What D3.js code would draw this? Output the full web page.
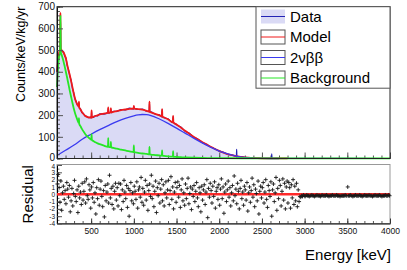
<!DOCTYPE html>
<html>
<head>
<meta charset="utf-8">
<script src="https://cdn.jsdelivr.net/npm/d3@7/dist/d3.min.js"></script>
<style>
  body { margin: 0; background: #fff; }
  svg { display: block; font-family: "Liberation Sans", Arial, sans-serif; }
</style>
</head>
<body>
<svg width="407" height="270"></svg>
<script>
// [energy keV, counts/keV/kg/yr]
const dataPts = [[100,398],[110,446],[120,470],[130,498],[136,505],[140,665],[144,495],[150,504],[160,492],[175,494],[190,472],[205,464],[220,428],[235,410],[250,380],[265,362],[280,326],[295,305],[310,275],[325,263],[340,245],[354,243],[357,258],[360,233],[375,229],[390,213],[410,207],[430,195],[450,194],[470,188],[490,191],[502,187],[505,218],[508,191],[530,190],[550,198],[575,197],[600,206],[650,205],[697,213],[700,232],[703,209],[728,216],[731,229],[734,211],[760,218],[800,217],[850,226],[900,224],[950,232],[997,228],[1000,240],[1003,233],[1050,226],[1100,228],[1150,218],[1180,219],[1183,258],[1186,213],[1200,215],[1250,204],[1300,201],[1328,192],[1331,225],[1334,195],[1350,188],[1400,183],[1457,165],[1460,193],[1463,168],[1500,155],[1550,145],[1600,126],[1650,116],[1700,98],[1750,90],[1800,74],[1850,66],[1900,53],[1950,45],[2000,34],[2050,28],[2100,19],[2150,16],[2201,10],[2204,42],[2207,9],[2250,8],[2300,4],[2350,4],[2400,2],[2450,1.5],[2500,1],[2612,0.5],[2615,22],[2618,0.5],[2700,0.3],[3000,0.2],[3500,0.2],[4000,0]];

const modelPts = [[100,400],[110,442],[120,476],[130,494],[136,498],[140,672],[144,500],[150,501],[160,497],[175,490],[190,478],[205,460],[220,432],[235,406],[250,384],[265,358],[280,330],[295,302],[310,278],[325,260],[340,248],[354,240],[357,262],[360,236],[375,226],[390,216],[410,205],[430,197],[450,192],[470,190],[490,189],[502,189],[505,222],[508,189],[530,193],[550,196],[575,199],[600,203],[650,207],[697,211],[700,236],[703,211],[728,213],[731,232],[734,213],[760,215],[800,219],[850,223],[900,226],[950,229],[997,230],[1000,242],[1003,230],[1050,228],[1100,225],[1150,220],[1180,216],[1183,262],[1186,215],[1200,213],[1250,206],[1300,199],[1328,194],[1331,228],[1334,193],[1350,190],[1400,181],[1457,167],[1460,196],[1463,166],[1500,157],[1550,143],[1600,128],[1650,114],[1700,100],[1750,88],[1800,76],[1850,65],[1900,54],[1950,44],[2000,35],[2050,27],[2100,20],[2150,15],[2200,11],[2250,8],[2300,5],[2350,3.5],[2400,2.2],[2450,1.5],[2500,1],[2600,0.6],[2700,0.4],[2800,0.3]];

const sigPts = [[100,14],[200,38],[300,62],[400,90],[500,112],[600,133],[700,152],[800,170],[900,185],[1000,197],[1050,201],[1100,203],[1150,202],[1200,198],[1300,182],[1400,162],[1500,140],[1600,117],[1700,94],[1800,72],[1900,52],[2000,34],[2100,21],[2200,11],[2300,5],[2400,2],[2500,0.6],[2600,0.1],[2700,0]];

const bgPts = [[100,330],[110,402],[120,455],[130,480],[136,486],[140,656],[144,486],[150,483],[160,470],[175,450],[190,425],[205,398],[220,370],[235,341],[250,312],[265,285],[280,258],[295,233],[310,211],[325,193],[340,177],[354,163],[357,186],[360,160],[375,149],[390,138],[410,125],[430,113],[450,104],[470,96],[490,90],[502,87],[505,112],[508,86],[530,80],[550,75],[575,70],[600,66],[650,59],[697,54],[700,94],[703,54],[728,52],[731,76],[734,51],[760,49],[800,45],[850,41],[900,37],[950,33],[997,30],[1000,60],[1003,29],[1050,26],[1100,23],[1150,21],[1180,19],[1183,54],[1186,19],[1200,18],[1250,16],[1300,14],[1328,13],[1331,37],[1334,13],[1350,12],[1400,10],[1457,9],[1460,34],[1463,8],[1500,7],[1550,6],[1600,5],[1700,3.5],[1800,2.5],[1900,2],[2000,1.5],[2500,1],[3000,0.8],[3500,0.6],[4000,0.5]];

// residuals, 10 keV bins from 100 keV
const resStart = 100, resBin = 10;
const resLow = [
  1.4,2.7,0.9,-1.1,1.8,-2.2,0.2,1.1,-0.7,0.5,
  -1.3,1.6,0.7,-0.4,1.2,-2.4,-0.9,0.8,-1.6,0.1,
  1.9,-0.3,-1.0,0.6,-2.5,1.1,-0.5,0.3,-1.4,1.5,
  -0.8,0.4,1.7,-1.2,2.1,-0.2,-0.7,1.3,0.6,-1.9,
  1.0,-0.5,1.6,-1.1,0.2,-2.7,0.9,-0.6,2.0,-1.5,
  0.7,1.8,-0.3,-1.7,0.5,-3.1,1.2,-0.9,0.3,1.4,
  -1.2,2.6,-0.5,0.8,-1.4,1.1,-2.0,0.4,1.5,-0.8,
  0.9,-1.6,1.5,-0.2,1.4,-2.1,0.6,-1.0,1.9,0.3,
  -0.6,1.2,-1.8,0.8,-3.0,0.5,1.6,-0.9,0.2,-1.3,
  1.1,0.4,-0.7,1.7,-1.9,0.6,1.0,-0.4,2.3,-1.1,
  0.8,-1.5,0.3,1.9,-0.8,1.2,-2.2,0.5,1.4,-0.3,
  2.6,-0.6,1.1,-1.7,0.4,1.8,-2.5,0.9,-0.2,1.5,
  -1.2,0.7,2.0,-0.9,1.3,-1.6,0.2,1.7,-0.5,0.6,
  1.9,-1.4,0.5,2.4,-0.7,1.0,-2.0,0.3,1.6,-1.1,
  0.9,1.7,-0.4,1.2,-1.8,0.6,2.1,-0.9,0.2,-1.5,
  1.4,-0.6,0.8,2.2,-1.3,0.1,1.0,-2.1,0.7,-0.3,
  1.2,-1.0,0.4,1.6,-0.5,-1.7,0.9,0.2,-2.4,1.1,
  -0.8,0.6,1.3,-1.4,0.3,2.0,-3.2,0.8,-0.4,1.5,
  0.5,-1.2,1.1,-0.3,1.7,-1.9,0.4,0.9,-0.7,1.3,
  -1.5,0.7,2.1,-0.6,1.0,-2.6,0.3,1.4,-1.0,0.6,
  1.8,-0.4,0.9,-1.6,0.2,1.2,-0.9,2.5,-0.2,0.7,
  -1.3,1.5,0.4,-2.0,0.8,1.9,-0.6,0.3,-1.5,1.1,
  0.6,-0.8,1.6,-2.3,0.2,1.0,-1.1,0.5,2.2,-0.4,
  1.3,-1.7,0.7,0.1,-0.9,1.8,-2.7,0.4,1.1,-0.5,
  0.9,1.6,-1.2,0.3,2.0,-0.7,-1.8,1.2,0.5,-0.3,
  1.7,-3.0,0.6,1.4,-1.0,0.2,2.3,-2.2,0.8,-0.6,
  1.9,1.2,-1.6,0.4,2.1,-0.8,1.5,-2.0,1.0,1.8,
  -1.2,1.6,0.9,-1.9,1.3,-0.5,2.0,-1.4,1.1,-0.9,
  1.5,-1.7,0.6,-1.0,-0.3
];
const resHigh = [
  -0.4,-0.2,-0.3,-0.1,-0.2,-0.3,-0.2,-0.1,-0.2,-0.2,
  -0.3,-0.2,-0.2,-0.1,-0.2,-0.2,-0.3,-0.2,-0.2,-0.1,
  -0.2,-0.2,-0.2,-0.3,-0.2,-0.1,-0.2,-0.2,-0.2,-0.2,
  -0.1,-0.2,-0.2,-0.3,-0.2,-0.2,-0.2,-0.1,-0.2,-0.2,
  -0.2,-0.2,-0.1,-0.2,-0.2,-0.2,-0.3,-0.2,-0.2,-0.2,
  -0.2,-0.2,-0.1,-0.2,-0.2,1.0,-0.2,-0.2,-0.1,-0.2,
  -0.2,-0.3,-0.2,-0.2,-0.1,-0.2,-0.2,-0.2,-0.2,-0.1,
  -0.2,-0.2,-0.3,-0.2,-0.2,-0.1,-0.2,-0.2,-0.2,-0.2,
  -0.1,-0.2,-0.2,-0.2,-0.3,-0.2,-0.2,-0.1,-0.2,-0.2,
  -0.2,-0.2,-0.1,-0.2,-0.2,-0.3,-0.2,-0.2,-0.2,-0.1,
  -0.2,-0.2,-0.2,-0.1,-0.2
];
const resAll = resLow.concat(resHigh);

const xMajor = [500,1000,1500,2000,2500,3000,3500,4000];
const yTicks = [0,100,200,300,400,500,600,700];
const rTicks = [-4,-3,-2,-1,0,1,2,3,4];

const legendItems = [
  {label: "Data", color: "#2323b4", fill: "#dadaf5"},
  {label: "Model", color: "#f01a1a", fill: "#fff"},
  {label: "2\u03bd\u03b2\u03b2", color: "#3a3af0", fill: "#fff"},
  {label: "Background", color: "#26e626", fill: "#fff"}
];

const svg = d3.select("svg");
const font = '"Liberation Sans", Arial, sans-serif';
const fmt = d3.format("d");

const x = d3.scaleLinear().domain([100, 4000]).range([57, 390]);
const y = d3.scaleLinear().domain([0, 700]).range([158.5, 6.7]);
const yr = d3.scaleLinear().domain([-4, 4]).range([223.5, 165]);

// ---------- top pad ----------
const topPad = svg.append("g");

const line = d3.line()
  .x(function(d) { return x(d[0]); })
  .y(function(d) { return y(d[1]); })
  .curve(d3.curveMonotoneX);

const area = d3.area()
  .x(function(d) { return x(d[0]); })
  .y0(y(0))
  .y1(function(d) { return y(d[1]); })
  .curve(d3.curveMonotoneX);

topPad.append("path").datum(dataPts)
  .attr("fill", "#dadaf5").attr("d", area);

// minor/major ticks on the inside
topPad.append("g").attr("transform", "translate(0," + y(0) + ")")
  .call(d3.axisBottom(x).tickValues(d3.range(100, 4001, 100)).tickSizeInner(-3).tickSizeOuter(0).tickFormat(""))
  .call(function(g) { g.select(".domain").remove(); g.selectAll("line").attr("stroke", "#555"); });
topPad.append("g").attr("transform", "translate(0," + y(0) + ")")
  .call(d3.axisBottom(x).tickValues(xMajor).tickSizeInner(-6).tickSizeOuter(0).tickFormat(""))
  .call(function(g) { g.select(".domain").remove(); g.selectAll("line").attr("stroke", "#555"); });

topPad.append("path").datum(dataPts)
  .attr("fill", "none").attr("stroke", "#2323b4").attr("stroke-width", 1.2).attr("d", line);
topPad.append("path").datum(modelPts)
  .attr("fill", "none").attr("stroke", "#f01a1a").attr("stroke-width", 1.8)
  .attr("stroke-linejoin", "round").attr("d", line);
topPad.append("path").datum(sigPts)
  .attr("fill", "none").attr("stroke", "#3a3af0").attr("stroke-width", 1.3).attr("d", line);
topPad.append("path").datum(bgPts)
  .attr("fill", "none").attr("stroke", "#26e626").attr("stroke-width", 1.8).attr("d", line);

topPad.append("g").attr("transform", "translate(" + x(100) + ",0)")
  .call(d3.axisLeft(y).tickValues(d3.range(0, 701, 20)).tickSizeInner(-3).tickSizeOuter(0).tickFormat(""))
  .call(function(g) { g.select(".domain").remove(); g.selectAll("line").attr("stroke", "#555"); });
topPad.append("g").attr("transform", "translate(" + x(100) + ",0)")
  .call(d3.axisLeft(y).tickValues(yTicks).tickSizeInner(-6).tickSizeOuter(0).tickPadding(2).tickFormat(fmt))
  .call(function(g) {
    g.select(".domain").attr("stroke", "#000");
    g.selectAll("line").attr("stroke", "#555");
    g.selectAll("text").attr("font-size", 10).attr("font-family", font).attr("fill", "#111");
    g.selectAll("text").filter(function(d) { return d === 0; }).attr("dy", "0.2em");
  });

// frame
topPad.append("rect")
  .attr("x", x(100)).attr("y", y(700))
  .attr("width", x(4000) - x(100)).attr("height", y(0) - y(700))
  .attr("fill", "none").attr("stroke", "#222").attr("stroke-width", 1);

topPad.append("text")
  .attr("transform", "translate(22," + y(700) + ") rotate(-90)")
  .attr("text-anchor", "end").attr("dy", "0.25em")
  .attr("font-size", 12.5).attr("font-family", font)
  .text("Counts/keV/kg/yr");

// legend
const leg = svg.append("g");
leg.append("rect").attr("x", 256).attr("y", y(700)).attr("width", x(4000) - 256).attr("height", 81.5)
  .attr("fill", "#fff").attr("stroke", "#555").attr("stroke-width", 1);
legendItems.forEach(function(d, i) {
  const cy = 16.5 + i * 20.5;
  leg.append("rect").attr("x", 261).attr("y", cy - 7).attr("width", 24).attr("height", 14)
    .attr("fill", d.fill).attr("stroke", i === 0 ? "none" : "#555");
  leg.append("line").attr("x1", 261).attr("x2", 285).attr("y1", cy).attr("y2", cy)
    .attr("stroke", d.color).attr("stroke-width", 1);
  leg.append("text").attr("x", 290).attr("y", cy).attr("dy", "0.36em")
    .attr("font-size", 15).attr("font-family", font).text(d.label);
});

// ---------- residual pad ----------
const botPad = svg.append("g");

botPad.append("rect")
  .attr("x", x(100)).attr("y", yr(4) - 0.5)
  .attr("width", x(4000) - x(100)).attr("height", yr(-4) - yr(4) + 0.5)
  .attr("fill", "none").attr("stroke", "#999").attr("stroke-width", 1);

botPad.append("g").attr("transform", "translate(0," + yr(-4) + ")")
  .call(d3.axisBottom(x).tickValues(d3.range(100, 4001, 100)).tickSizeInner(-2.5).tickSizeOuter(0).tickFormat(""))
  .call(function(g) { g.select(".domain").remove(); g.selectAll("line").attr("stroke", "#555"); });
botPad.append("g").attr("transform", "translate(0," + yr(-4) + ")")
  .call(d3.axisBottom(x).tickValues(xMajor).tickSizeInner(-5).tickSizeOuter(0).tickPadding(4).tickFormat(fmt))
  .call(function(g) {
    g.select(".domain").attr("stroke", "#000");
    g.selectAll("line").attr("stroke", "#333");
    g.selectAll("text").attr("font-size", 8.5).attr("font-family", font).attr("fill", "#111");
  });

botPad.append("g").attr("transform", "translate(" + x(100) + ",0)")
  .call(d3.axisLeft(yr).tickValues(d3.range(-4, 4.01, 0.5)).tickSizeInner(-2.5).tickSizeOuter(0).tickFormat(""))
  .call(function(g) { g.select(".domain").remove(); g.selectAll("line").attr("stroke", "#777"); });
botPad.append("g").attr("transform", "translate(" + x(100) + ",0)")
  .call(d3.axisLeft(yr).tickValues(rTicks).tickSizeInner(-5).tickSizeOuter(0).tickPadding(2).tickFormat(function(d) { return String(d); }))
  .call(function(g) {
    g.select(".domain").attr("stroke", "#000");
    g.selectAll("line").attr("stroke", "#555");
    g.selectAll("text").attr("font-size", 6.5).attr("font-family", font).attr("fill", "#111");
    g.selectAll("text").filter(function(d) { return d === 4; }).attr("dy", "0.6em");
  });

botPad.append("line")
  .attr("x1", x(100)).attr("x2", x(4000)).attr("y1", yr(0)).attr("y2", yr(0))
  .attr("stroke", "#ff2a2a").attr("stroke-width", 2.5);

botPad.append("g").selectAll("path")
  .data(resAll)
  .enter().append("path")
  .attr("transform", function(d, i) {
    return "translate(" + x(resStart + resBin * i + resBin / 2) + "," + yr(d) + ")";
  })
  .attr("d", "M-2,0H2M0,-2V2")
  .attr("stroke", "#1a1a1a").attr("stroke-width", 0.9).attr("fill", "none");

botPad.append("text")
  .attr("transform", "translate(33," + ((yr(4) + yr(-4)) / 2) + ") rotate(-90)")
  .attr("text-anchor", "middle")
  .attr("font-size", 15).attr("font-family", font)
  .text("Residual");

svg.append("text")
  .attr("x", 391).attr("y", 260)
  .attr("text-anchor", "end")
  .attr("font-size", 15).attr("font-family", font)
  .text("Energy [keV]");
</script>
</body>
</html>
